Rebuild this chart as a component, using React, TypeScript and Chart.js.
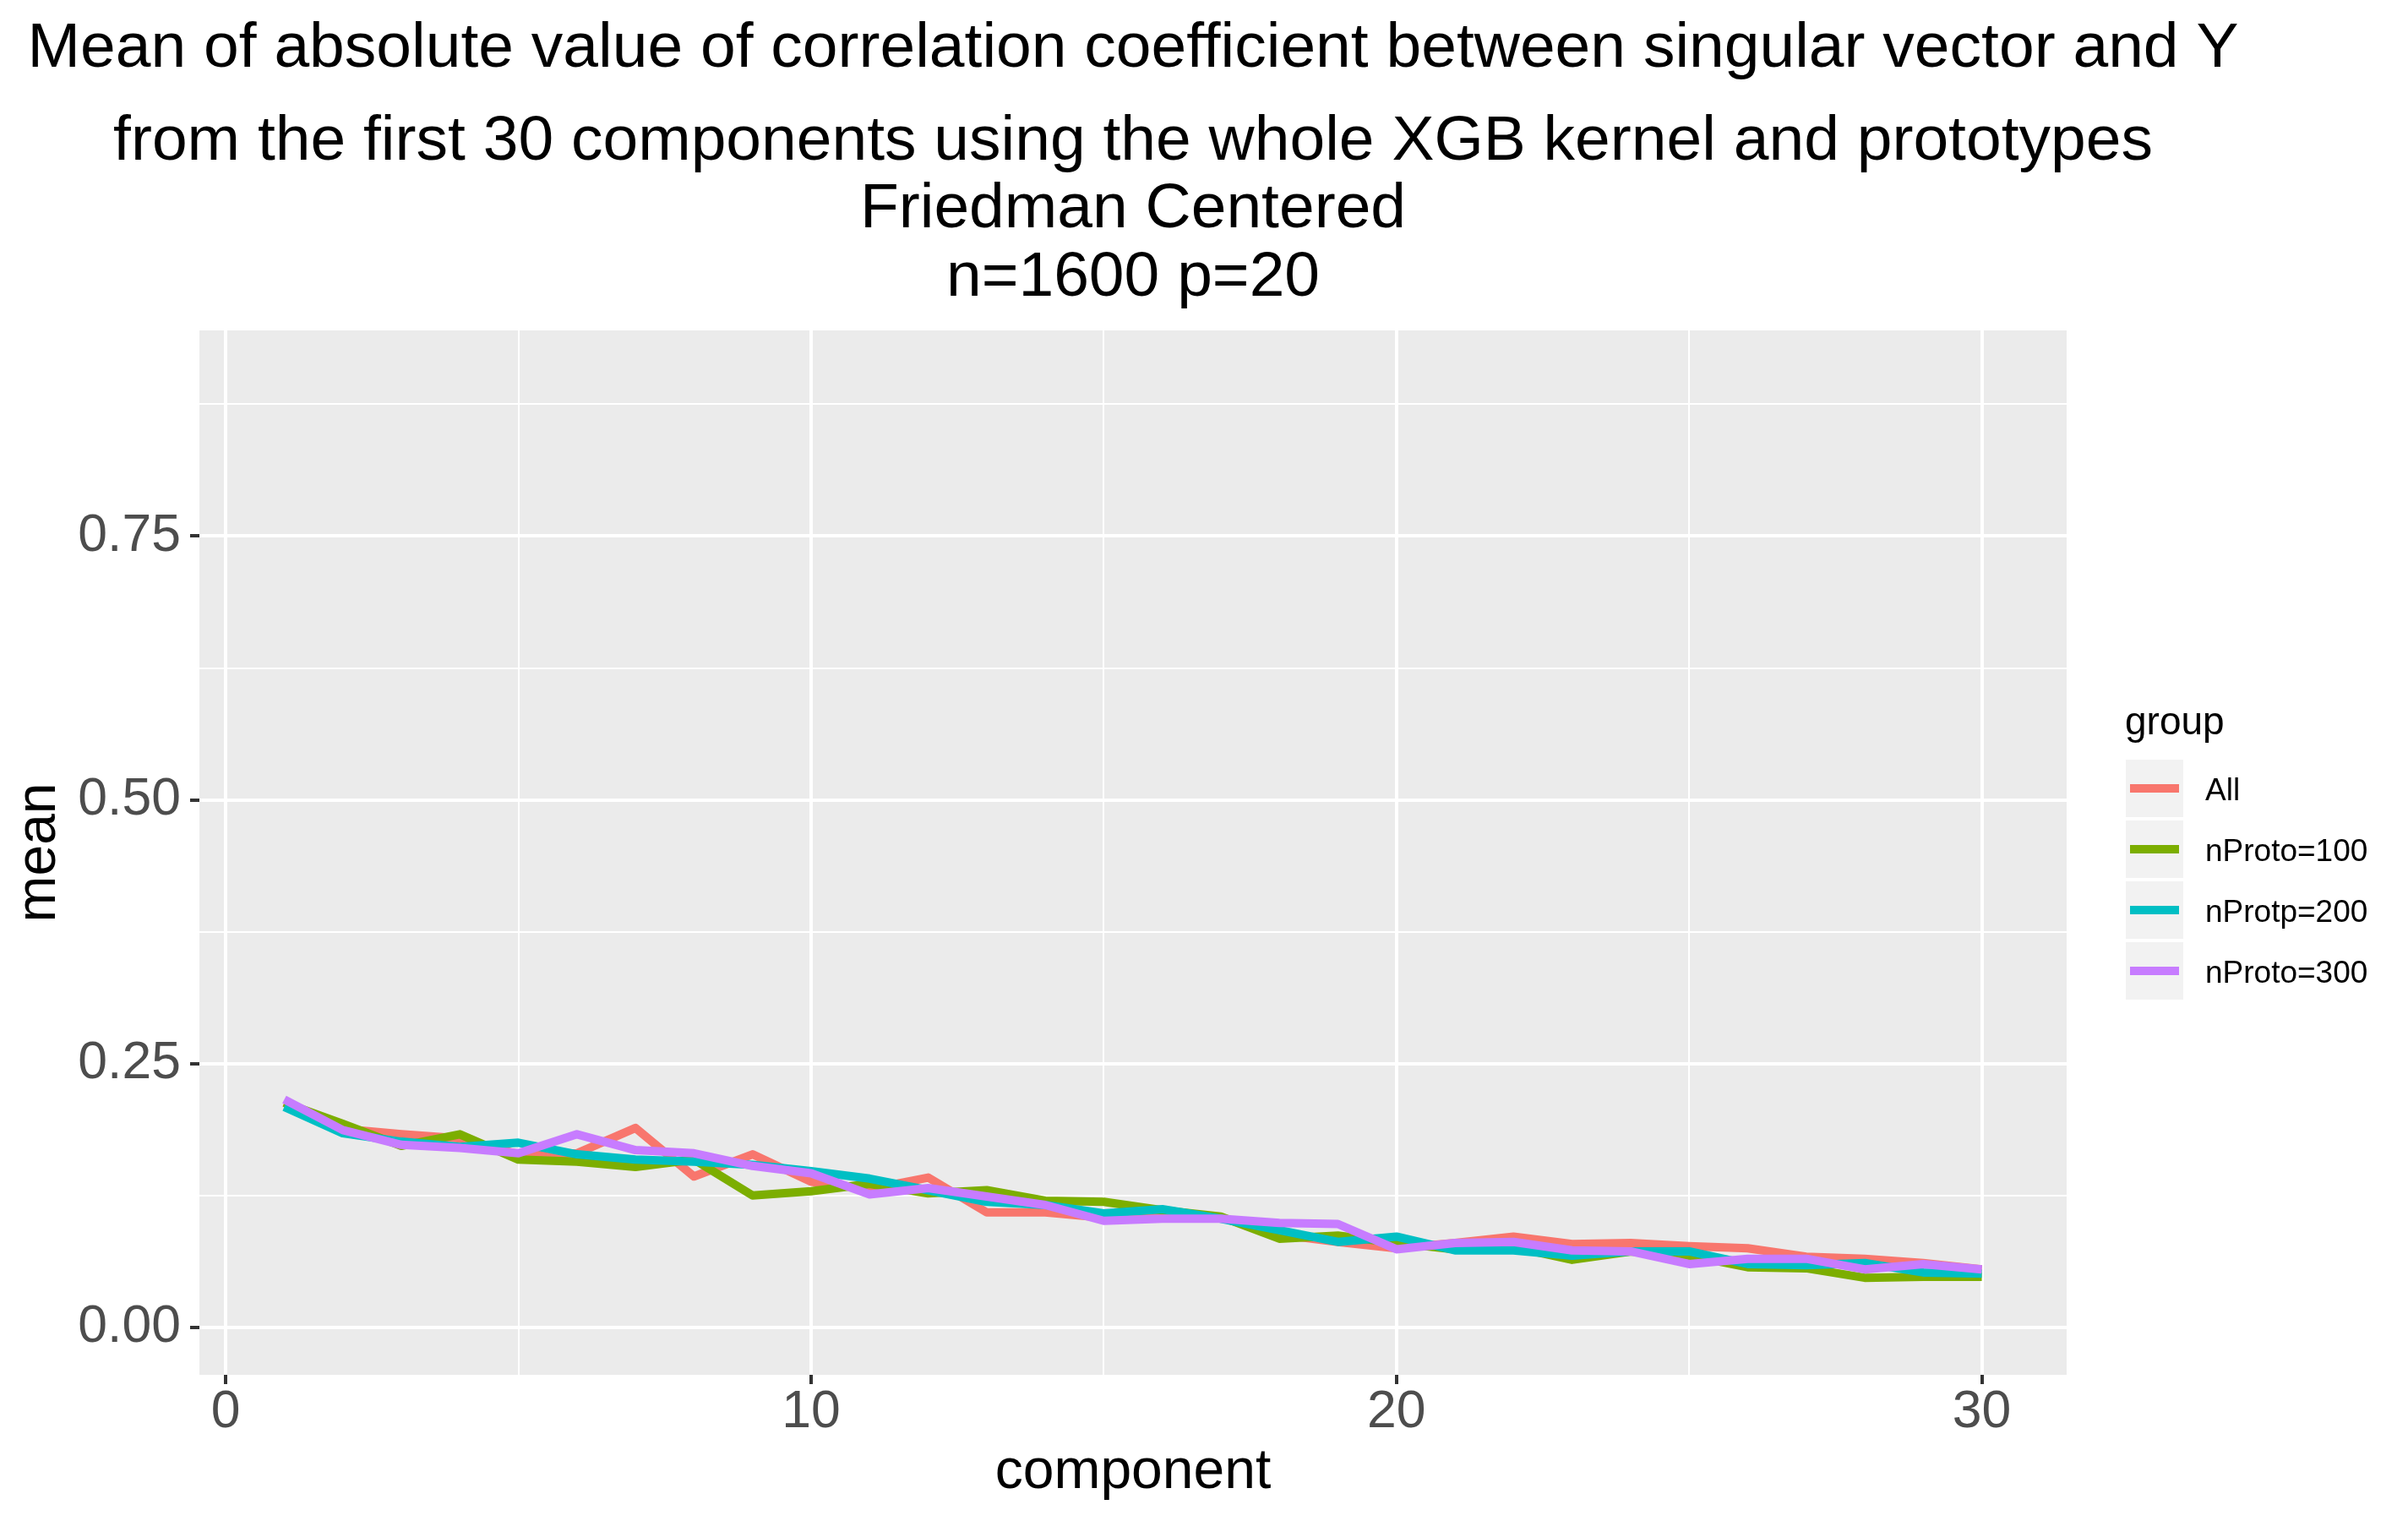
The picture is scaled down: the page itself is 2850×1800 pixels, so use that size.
import React, { useEffect, useRef } from 'react';
import { Chart, registerables } from 'chart.js';

Chart.register(...registerables);

// component index on the x axis
const components = [1, 2, 3, 4, 5, 6, 7, 8, 9, 10, 11, 12, 13, 14, 15, 16, 17, 18, 19, 20, 21, 22, 23, 24, 25, 26, 27, 28, 29, 30];

// mean |corr| per group
const meanAll = [0.213, 0.188, 0.183, 0.179, 0.164, 0.165, 0.189, 0.143, 0.164, 0.138, 0.131, 0.142, 0.109, 0.109, 0.104, 0.104, 0.104, 0.088, 0.081, 0.075, 0.080, 0.086, 0.079, 0.080, 0.077, 0.075, 0.067, 0.065, 0.061, 0.055];
const meanProto100 = [0.213, 0.193, 0.172, 0.183, 0.159, 0.157, 0.152, 0.159, 0.125, 0.129, 0.136, 0.127, 0.130, 0.120, 0.119, 0.111, 0.105, 0.084, 0.087, 0.080, 0.074, 0.076, 0.064, 0.072, 0.068, 0.057, 0.056, 0.047, 0.048, 0.048];
const meanProtp200 = [0.209, 0.184, 0.176, 0.171, 0.175, 0.164, 0.159, 0.157, 0.154, 0.148, 0.141, 0.130, 0.119, 0.116, 0.108, 0.112, 0.103, 0.092, 0.081, 0.086, 0.073, 0.073, 0.068, 0.072, 0.072, 0.060, 0.059, 0.061, 0.052, 0.051];
const meanProto300 = [0.216, 0.187, 0.173, 0.170, 0.165, 0.183, 0.168, 0.165, 0.153, 0.146, 0.126, 0.132, 0.124, 0.116, 0.101, 0.103, 0.103, 0.099, 0.098, 0.074, 0.080, 0.081, 0.073, 0.072, 0.060, 0.065, 0.065, 0.055, 0.060, 0.055];

const groupLabels = ['All', 'nProto=100', 'nProtp=200', 'nProto=300'];
const groupColors = ['#F8766D', '#7CAE00', '#00BFC4', '#C77CFF'];
const groupSeries = [meanAll, meanProto100, meanProtp200, meanProto300];

const titleLines = [
    'Mean of absolute value of correlation coefficient between singular vector and Y',
    'from the first 30 components using the whole XGB kernel and prototypes',
    'Friedman Centered',
    'n=1600 p=20',
];

const FONT = "'Liberation Sans', Arial, Helvetica, sans-serif";
const W = 2850;
const H = 1800;

const isMultiple = (v: number, step: number) => Math.abs(v / step - Math.round(v / step)) < 1e-6;

// panel background, titles and ggplot-style legend
const ggDecor = {
    id: 'ggDecor',
    beforeDraw(chart: any) {
        const { ctx, chartArea: a } = chart;
        ctx.save();
        ctx.fillStyle = '#EBEBEB';
        ctx.fillRect(a.left, a.top, a.right - a.left, a.bottom - a.top);
        ctx.restore();
    },
    afterDraw(chart: any) {
        const { ctx, chartArea: a } = chart;
        const cx = (a.left + a.right) / 2;
        ctx.save();
        ctx.fillStyle = '#000000';
        ctx.textAlign = 'center';
        ctx.textBaseline = 'alphabetic';
        ctx.font = `75px ${FONT}`;
        const baselines = [79, 189, 269, 350];
        titleLines.forEach((t, i) => ctx.fillText(t, cx, baselines[i]));

        // legend
        const lx = a.right + 70;
        const midY = (a.top + a.bottom) / 2;
        const keyTop = midY - 110;
        ctx.textAlign = 'left';
        ctx.font = `46px ${FONT}`;
        ctx.fillText('group', lx - 1, keyTop - 30);
        ctx.font = `37px ${FONT}`;
        groupLabels.forEach((label, i) => {
            const top = keyTop + i * 72;
            ctx.fillStyle = '#F2F2F2';
            ctx.fillRect(lx, top, 68, 68);
            ctx.strokeStyle = groupColors[i];
            ctx.lineWidth = 10;
            ctx.lineCap = 'butt';
            ctx.beginPath();
            ctx.moveTo(lx + 5, top + 34);
            ctx.lineTo(lx + 63, top + 34);
            ctx.stroke();
            ctx.fillStyle = '#000000';
            ctx.fillText(label, lx + 94, top + 48);
        });
        ctx.restore();
    },
};

const CorrelationChart: React.FC = () => {
    const canvasRef = useRef<HTMLCanvasElement>(null);

    useEffect(() => {
        if (!canvasRef.current) return;
        const chart = new Chart(canvasRef.current, {
            type: 'line',
            data: {
                datasets: groupLabels.map((label, i) => ({
                    label,
                    data: components.map((c, j) => ({ x: c, y: groupSeries[i][j] })),
                    borderColor: groupColors[i],
                    backgroundColor: groupColors[i],
                    borderWidth: 10,
                    borderJoinStyle: 'round' as const,
                    borderCapStyle: 'butt' as const,
                    pointRadius: 0,
                    tension: 0,
                    order: groupLabels.length - i,
                })),
            },
            options: {
                responsive: false,
                animation: false,
                layout: { padding: { top: 391, right: 404, left: 0, bottom: 0 } },
                scales: {
                    x: {
                        type: 'linear',
                        min: -0.45,
                        max: 31.45,
                        border: { display: false },
                        afterFit: (s: any) => { s.height = 173; },
                        grid: {
                            color: '#FFFFFF',
                            lineWidth: (c: any) => (isMultiple(c.tick.value, 10) ? 4 : 2),
                            tickColor: (c: any) => (isMultiple(c.tick.value, 10) ? '#333333' : 'rgba(0,0,0,0)'),
                            tickWidth: 4,
                            tickLength: 11,
                        },
                        ticks: {
                            stepSize: 5,
                            includeBounds: false,
                            autoSkip: false,
                            maxRotation: 0,
                            padding: 3,
                            color: '#4D4D4D',
                            font: { family: FONT, size: 62.5, lineHeight: 1 },
                            callback: (v: any) => (isMultiple(Number(v), 10) ? String(v) : ''),
                        },
                        title: {
                            display: true,
                            text: 'component',
                            color: '#000000',
                            font: { family: FONT, size: 66 },
                            padding: { top: 0, bottom: 18 },
                        },
                    },
                    y: {
                        type: 'linear',
                        min: -0.045,
                        max: 0.945,
                        border: { display: false },
                        afterFit: (s: any) => { s.width = 236; },
                        grid: {
                            color: '#FFFFFF',
                            lineWidth: (c: any) => (isMultiple(c.tick.value, 0.25) ? 4 : 2),
                            tickColor: (c: any) => (isMultiple(c.tick.value, 0.25) ? '#333333' : 'rgba(0,0,0,0)'),
                            tickWidth: 4,
                            tickLength: 11,
                        },
                        ticks: {
                            stepSize: 0.125,
                            includeBounds: false,
                            autoSkip: false,
                            padding: 11,
                            color: '#4D4D4D',
                            font: { family: FONT, size: 62.5 },
                            callback: (v: any) => (isMultiple(Number(v), 0.25) ? Number(v).toFixed(2) : ''),
                        },
                        title: {
                            display: true,
                            text: 'mean',
                            color: '#000000',
                            font: { family: FONT, size: 66 },
                            padding: { top: 7, bottom: 0 },
                        },
                    },
                },
                plugins: {
                    legend: { display: false },
                    title: { display: false },
                    tooltip: { enabled: false },
                },
            },
            plugins: [ggDecor],
        });

        return () => {
            chart.destroy();
        };
    }, []);

    return (
        <div style={{ position: 'absolute', left: 0, top: 0, width: W, height: H, background: '#FFFFFF' }}>
            <canvas ref={canvasRef} width={W} height={H} style={{ width: W, height: H }}></canvas>
        </div>
    );
};

export default CorrelationChart;
